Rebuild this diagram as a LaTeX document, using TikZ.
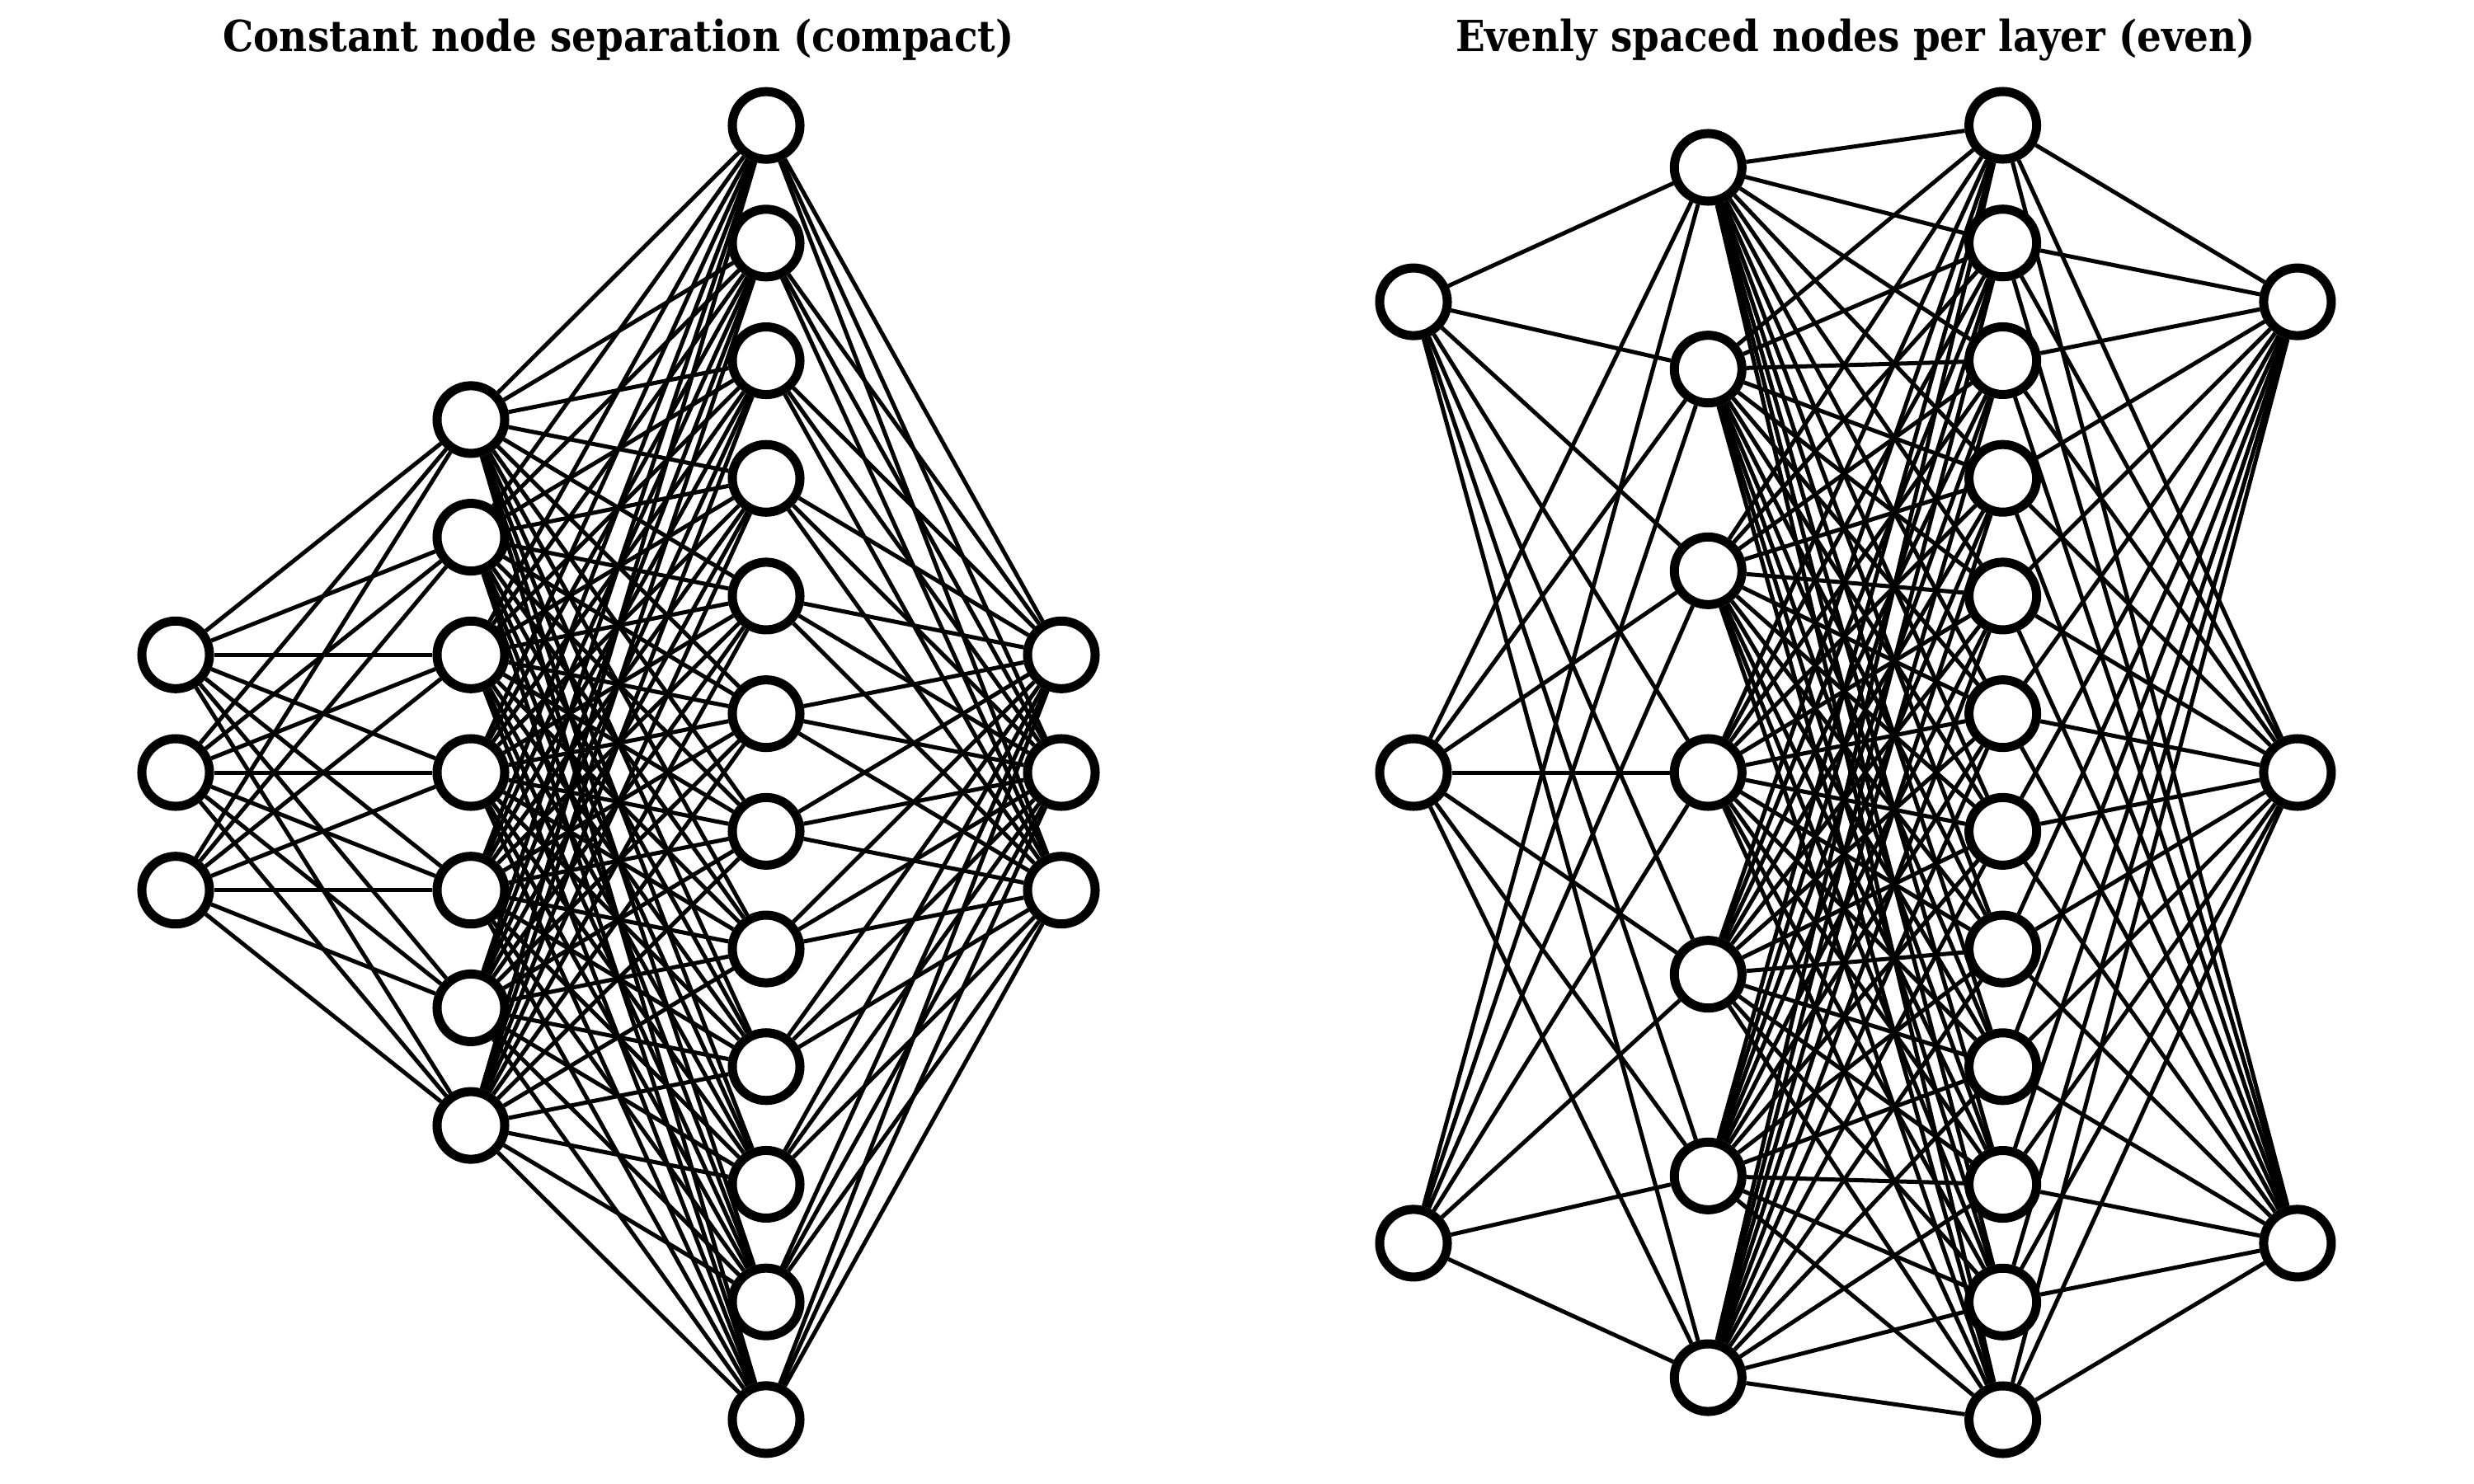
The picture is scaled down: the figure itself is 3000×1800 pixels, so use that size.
\documentclass[tikz,border=0pt]{standalone}
\usepackage{fontspec}
\newfontfamily\titlefont{DejaVu Serif Condensed}
\usetikzlibrary{backgrounds}

\tikzset{
  neuron/.style={circle, draw=black, fill=white, line width=0.11cm, minimum size=0.82cm, inner sep=0pt},
  synapse/.style={line width=0.05cm, black},
  heading/.style={font=\titlefont\bfseries\fontsize{14.8}{18}\selectfont, anchor=base}
}

\begin{document}
\begin{tikzpicture}[x=0.01cm, y=-0.01cm]
	\useasboundingbox (0,0) rectangle (3000,1800);
	
	%%%%% titles %%%%%
	\node[heading] (compactTitle) at (750, 63) {Constant node separation (compact)};
	\node[heading] (evenTitle) at (2250, 63) {Evenly spaced nodes per layer (even)};
	
	%%%%% compact: constant separation %%%%%
	\foreach \l/\n in {1/3, 2/7, 3/12, 4/3} {
		\foreach \i in {1,...,\n} {
			\node[neuron] (c\l-\i) at ({213+358*(\l-1)}, {937+142.7*(\i-(\n+1)/2)}) {};
		}
	}
	
	%%%%% even: spread over the height %%%%%
	\foreach \l/\n in {1/3, 2/7, 3/12, 4/3} {
		\foreach \i in {1,...,\n} {
			\node[neuron] (e\l-\i) at ({1714+357.3*(\l-1)}, {937+1712.7/\n*(\i-(\n+1)/2)}) {};
		}
	}
	
	%%%%% connections %%%%%
	\begin{scope}[on background layer]
		\foreach \a/\na/\b/\nb in {1/3/2/7, 2/7/3/12, 3/12/4/3} {
			\foreach \i in {1,...,\na} {
				\foreach \j in {1,...,\nb} {
					\draw[synapse] (c\a-\i) -- (c\b-\j);
					\draw[synapse] (e\a-\i) -- (e\b-\j);
				}
			}
		}
	\end{scope}
\end{tikzpicture}
\end{document}
